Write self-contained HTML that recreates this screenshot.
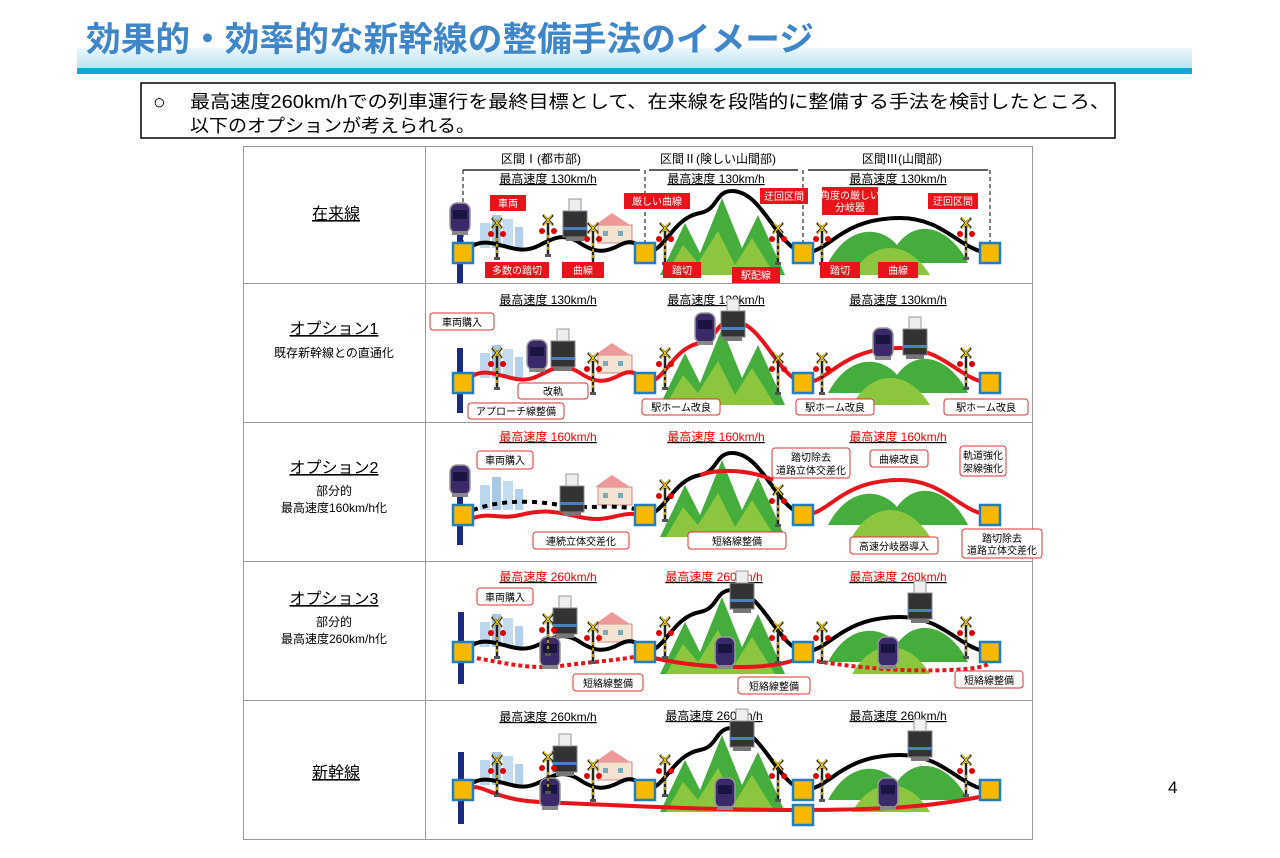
<!DOCTYPE html>
<html><head><meta charset="utf-8"><style>
body{margin:0;background:#fff;width:1280px;height:853px;overflow:hidden;font-family:"Liberation Sans","Noto Sans CJK JP",sans-serif}
svg text{font-family:"Liberation Sans","Noto Sans CJK JP",sans-serif}
</style></head><body>
<svg width="1280" height="853" viewBox="0 0 1280 853" xmlns="http://www.w3.org/2000/svg">
<defs>
<linearGradient id="band" x1="0" y1="0" x2="0" y2="1"><stop offset="0" stop-color="#eaf6fb"/><stop offset="1" stop-color="#bfe4f2"/></linearGradient>
<g id="stn"><rect x="-10" y="-10" width="20" height="20" fill="#f6b800" stroke="#1f7fc1" stroke-width="2.5"/></g>
<g id="sig"><line x1="0" y1="-22" x2="0" y2="10" stroke="#222" stroke-width="2.5"/><line x1="0" y1="-10" x2="0" y2="8" stroke="#e8c000" stroke-width="1.5" stroke-dasharray="3 3"/><path d="M-5,-30 L5,-20 M5,-30 L-5,-20" stroke="#222" stroke-width="2.5"/><path d="M-4,-30 L4,-20 M4,-30 L-4,-20" stroke="#f5d000" stroke-width="1.2"/><circle cx="-6" cy="-14" r="3" fill="#d00"/><circle cx="6" cy="-14" r="3" fill="#d00"/><rect x="-3" y="9" width="6" height="3" fill="#555"/></g>
<g id="trn"><rect x="-10" y="-15" width="20" height="30" rx="7" fill="#3a2a6a" stroke="#999" stroke-width="1.5"/><rect x="-7" y="-8" width="14" height="9" fill="#1a1440"/><rect x="-8" y="13" width="16" height="4" fill="#888"/></g>
<g id="loco"><rect x="-12" y="-14" width="24" height="26" fill="#333" stroke="#888"/><rect x="-6" y="-26" width="12" height="12" fill="#eee" stroke="#999"/><rect x="-12" y="2" width="24" height="3" fill="#4a7fc0"/><rect x="-9" y="12" width="18" height="4" fill="#777"/></g>
<g id="city"><rect x="480" y="-30" width="10" height="25" fill="#bcd6ec"/><rect x="492" y="-38" width="9" height="33" fill="#a9c8e6"/><rect x="503" y="-34" width="10" height="29" fill="#c3dcef"/><rect x="515" y="-26" width="8" height="21" fill="#b5d0ea"/></g>
<g id="house"><rect x="598" y="-28" width="34" height="18" fill="#f3e3d0" stroke="#c88"/><path d="M595,-28 L612,-40 L630,-28Z" fill="#e99"/><rect x="603" y="-22" width="5" height="5" fill="#7ab"/><rect x="618" y="-22" width="5" height="5" fill="#7ab"/></g>
<g id="mtn"><path d="M660,22 L685,-30 L700,0 L722,-55 L742,-5 L758,-38 L785,22Z" fill="#45ad3c"/><path d="M666,22 L683,-8 L698,10 L718,-22 L735,12 L752,-15 L775,22Z" fill="#8cc63f"/><path d="M828,10 C848,-28 880,-28 897,-8 C917,-36 950,-26 968,10Z" fill="#45ad3c"/><path d="M852,22 C872,-14 908,-14 930,22Z" fill="#8cc63f"/></g>
<path id="trk" d="M463,0 C475,-12 485,-12 500,-8 S525,0 540,-8 S565,-20 580,-10 S605,0 620,-8 S640,-5 645,0 C665,0 672,-35 700,-40 C718,-43 715,-62 732,-62 C762,-62 776,-8 803,0 C830,0 840,-35 900,-35 C945,-35 960,-2 990,0" fill="none"/>
</defs>

<!-- header -->
<rect x="77" y="48" width="1115" height="20" fill="url(#band)"/>
<rect x="77" y="68" width="1115" height="6" fill="#14a8d3"/>
<text x="86" y="51" font-size="34" font-weight="bold" fill="#3f86c8" textLength="728" lengthAdjust="spacingAndGlyphs">効果的・効率的な新幹線の整備手法のイメージ</text>
<rect x="141" y="83" width="974" height="55" fill="#fff" stroke="#000" stroke-width="1.5"/>
<text x="153" y="109" font-size="21">○</text>
<text x="190" y="108" font-size="18" textLength="920" lengthAdjust="spacingAndGlyphs">最高速度260km/hでの列車運行を最終目標として、在来線を段階的に整備する手法を検討したところ、</text>
<text x="190" y="132" font-size="18" textLength="285" lengthAdjust="spacingAndGlyphs">以下のオプションが考えられる。</text>
<text x="1168" y="793" font-size="17">4</text>

<!-- table -->
<rect x="243.5" y="146.5" width="789" height="693" fill="none" stroke="#999"/>
<line x1="425.5" y1="146" x2="425.5" y2="840" stroke="#999"/>
<g stroke="#999"><line x1="243" y1="283.5" x2="1033" y2="283.5"/><line x1="243" y1="422.5" x2="1033" y2="422.5"/><line x1="243" y1="561.5" x2="1033" y2="561.5"/><line x1="243" y1="700.5" x2="1033" y2="700.5"/></g>
<g font-size="16" text-anchor="middle" text-decoration="underline">
<text x="336" y="219">在来線</text><text x="334" y="334">オプション1</text><text x="334" y="473">オプション2</text><text x="334" y="604">オプション3</text><text x="336" y="778">新幹線</text></g>
<g font-size="12" text-anchor="middle"><text x="334" y="357">既存新幹線との直通化</text><text x="334" y="495">部分的</text><text x="334" y="512">最高速度160km/h化</text><text x="334" y="626">部分的</text><text x="334" y="643">最高速度260km/h化</text></g>

<!-- row1 header -->
<g font-size="12" text-anchor="middle"><text x="541" y="163">区間Ⅰ(都市部)</text><text x="718" y="163">区間Ⅱ(険しい山間部)</text><text x="902" y="163">区間Ⅲ(山間部)</text></g>
<g stroke="#000" stroke-width="1.2"><line x1="463" y1="170" x2="640" y2="170"/><line x1="649" y1="170" x2="798" y2="170"/><line x1="808" y1="170" x2="988" y2="170"/></g>
<g stroke="#000" stroke-dasharray="4 3"><line x1="463" y1="170" x2="463" y2="245"/><line x1="645" y1="170" x2="645" y2="245"/><line x1="803" y1="170" x2="803" y2="245"/><line x1="990" y1="170" x2="990" y2="245"/></g>
<g font-size="12" text-anchor="middle" text-decoration="underline">
<text x="548" y="183">最高速度 130km/h</text><text x="716" y="183">最高速度 130km/h</text><text x="898" y="183">最高速度 130km/h</text>
<text x="548" y="304">最高速度 130km/h</text><text x="716" y="304">最高速度 130km/h</text><text x="898" y="304">最高速度 130km/h</text>
<g fill="#e00"><text x="548" y="441">最高速度 160km/h</text><text x="716" y="441">最高速度 160km/h</text><text x="898" y="441">最高速度 160km/h</text>
<text x="548" y="581">最高速度 260km/h</text><text x="714" y="581">最高速度 260km/h</text><text x="898" y="581">最高速度 260km/h</text></g>
<text x="548" y="721">最高速度 260km/h</text><text x="714" y="720">最高速度 260km/h</text><text x="898" y="720">最高速度 260km/h</text></g>

<!-- Row 1 -->
<g transform="translate(0,253)">
<rect x="457" y="-45" width="6" height="75" fill="#1a2a80"/>
<use href="#city"/><use href="#house"/><use href="#mtn"/>
<use href="#trk" stroke="#000" stroke-width="4"/>
<use href="#trn" x="460" y="-35"/><use href="#loco" x="575" y="-28"/>
<use href="#sig" x="497" y="-5"/><use href="#sig" x="548" y="-8"/><use href="#sig" x="593" y="0"/>
<use href="#sig" x="665" y="0"/><use href="#sig" x="778" y="0"/><use href="#sig" x="822" y="0"/><use href="#sig" x="966" y="-5"/>
<use href="#stn" x="463"/><use href="#stn" x="645"/><use href="#stn" x="803"/><use href="#stn" x="990"/>
</g>
<g fill="#e8141c"><rect x="490" y="195" width="36" height="16"/><rect x="485" y="262" width="64" height="16"/><rect x="562" y="262" width="42" height="16"/><rect x="624" y="193" width="66" height="16"/><rect x="760" y="188" width="48" height="16"/><rect x="663" y="262" width="38" height="16"/><rect x="732" y="267" width="48" height="16"/><rect x="822" y="187" width="56" height="28"/><rect x="928" y="193" width="50" height="16"/><rect x="820" y="262" width="40" height="16"/><rect x="878" y="262" width="40" height="16"/></g>
<g font-size="10" fill="#fff" text-anchor="middle"><text x="508" y="207">車両</text><text x="517" y="274">多数の踏切</text><text x="583" y="274">曲線</text><text x="657" y="205">厳しい曲線</text><text x="784" y="200">迂回区間</text><text x="682" y="274">踏切</text><text x="756" y="279">駅配線</text><text x="850" y="199">角度の厳しい</text><text x="850" y="211">分岐器</text><text x="953" y="205">迂回区間</text><text x="840" y="274">踏切</text><text x="898" y="274">曲線</text></g>

<!-- Row 2 -->
<g transform="translate(0,383)">
<rect x="457" y="-35" width="6" height="65" fill="#1a2a80"/>
<use href="#city"/><use href="#house"/><use href="#mtn"/>
<use href="#trk" stroke="#e8141c" stroke-width="4"/>
<use href="#trn" x="537" y="-28"/><use href="#loco" x="563" y="-28"/>
<use href="#trn" x="705" y="-55"/><use href="#loco" x="733" y="-58"/><use href="#trn" x="883" y="-40"/><use href="#loco" x="915" y="-40"/>
<use href="#sig" x="497" y="-5"/><use href="#sig" x="593" y="0"/><use href="#sig" x="665" y="-5"/><use href="#sig" x="778" y="0"/><use href="#sig" x="822" y="0"/><use href="#sig" x="966" y="-5"/>
<use href="#stn" x="463"/><use href="#stn" x="645"/><use href="#stn" x="803"/><use href="#stn" x="990"/>
</g>
<g fill="#fff" stroke="#d33" stroke-width="1"><rect x="430" y="313" width="64" height="17" rx="3"/><rect x="518" y="383" width="70" height="16" rx="3"/><rect x="468" y="403" width="96" height="16" rx="3"/><rect x="642" y="399" width="78" height="16" rx="3"/><rect x="796" y="399" width="78" height="16" rx="3"/><rect x="944" y="399" width="84" height="16" rx="3"/></g>
<g font-size="10" text-anchor="middle"><text x="462" y="326">車両購入</text><text x="553" y="395">改軌</text><text x="516" y="415">アプローチ線整備</text><text x="681" y="411">駅ホーム改良</text><text x="835" y="411">駅ホーム改良</text><text x="986" y="411">駅ホーム改良</text></g>

<!-- Row 3 -->
<g transform="translate(0,515)">
<rect x="457" y="-50" width="6" height="80" fill="#1a2a80"/>
<use href="#city"/><use href="#house"/><use href="#mtn"/>
<path d="M473,-5 C500,-15 530,-15 560,-10 S610,-12 640,-5" fill="none" stroke="#000" stroke-width="4" stroke-dasharray="5 5"/>
<path d="M473,3 C490,-3 500,5 520,0 S550,-5 580,2 S620,-5 640,0" fill="none" stroke="#e8141c" stroke-width="4"/>
<path d="M645,0 C665,0 672,-35 700,-40 C718,-43 715,-62 732,-62 C762,-62 776,-8 803,0" fill="none" stroke="#000" stroke-width="4"/>
<path d="M700,-40 C720,-47 750,-45 773,-35" fill="none" stroke="#e8141c" stroke-width="4"/>
<path d="M803,0 C830,0 840,-35 900,-35 C945,-35 960,-2 990,0" fill="none" stroke="#e8141c" stroke-width="4"/>
<use href="#trn" x="460" y="-35"/><use href="#loco" x="572" y="-15"/>
<use href="#sig" x="665" y="-5"/><use href="#sig" x="778" y="0"/>
<use href="#stn" x="463"/><use href="#stn" x="645"/><use href="#stn" x="803"/><use href="#stn" x="990"/>
</g>
<g fill="#fff" stroke="#d33" stroke-width="1"><rect x="477" y="451" width="56" height="18" rx="3"/><rect x="533" y="532" width="96" height="17" rx="3"/><rect x="688" y="532" width="98" height="17" rx="3"/><rect x="772" y="448" width="78" height="30" rx="3"/><rect x="870" y="450" width="58" height="17" rx="3"/><rect x="960" y="446" width="46" height="30" rx="3"/><rect x="850" y="537" width="88" height="17" rx="3"/><rect x="962" y="529" width="80" height="29" rx="3"/></g>
<g font-size="10" text-anchor="middle"><text x="505" y="464">車両購入</text><text x="581" y="545">連続立体交差化</text><text x="737" y="545">短絡線整備</text><text x="811" y="461">踏切除去</text><text x="811" y="474">道路立体交差化</text><text x="899" y="463">曲線改良</text><text x="983" y="459">軌道強化</text><text x="983" y="472">架線強化</text><text x="894" y="550">高速分岐器導入</text><text x="1002" y="542">踏切除去</text><text x="1002" y="554">道路立体交差化</text></g>

<!-- Row 4 -->
<g transform="translate(0,652)">
<rect x="458" y="-40" width="6" height="72" fill="#1a2a80"/>
<use href="#city"/><use href="#house"/><use href="#mtn"/>
<use href="#trk" stroke="#000" stroke-width="4"/>
<path d="M470,5 C500,10 530,18 560,14 S620,8 640,4" fill="none" stroke="#e8141c" stroke-width="4" stroke-dasharray="4 3"/>
<path d="M650,5 C690,15 760,20 795,8" fill="none" stroke="#e8141c" stroke-width="4"/>
<path d="M810,8 C850,15 900,20 950,18 S985,8 995,8" fill="none" stroke="#e8141c" stroke-width="4" stroke-dasharray="4 3"/>
<use href="#trn" x="550" y="0"/><use href="#loco" x="565" y="-30"/><use href="#trn" x="725" y="0"/><use href="#loco" x="742" y="-55"/><use href="#trn" x="888" y="0"/><use href="#loco" x="920" y="-45"/>
<use href="#sig" x="497" y="-5"/><use href="#sig" x="548" y="-8"/><use href="#sig" x="593" y="0"/><use href="#sig" x="665" y="-5"/><use href="#sig" x="778" y="0"/><use href="#sig" x="822" y="0"/><use href="#sig" x="966" y="-5"/>
<use href="#stn" x="463"/><use href="#stn" x="645"/><use href="#stn" x="803"/><use href="#stn" x="990"/>
</g>
<g fill="#fff" stroke="#d33" stroke-width="1"><rect x="477" y="588" width="56" height="17" rx="3"/><rect x="573" y="674" width="70" height="17" rx="3"/><rect x="738" y="677" width="72" height="17" rx="3"/><rect x="955" y="671" width="68" height="17" rx="3"/></g>
<g font-size="10" text-anchor="middle"><text x="505" y="601">車両購入</text><text x="608" y="687">短絡線整備</text><text x="774" y="690">短絡線整備</text><text x="989" y="684">短絡線整備</text></g>

<!-- Row 5 -->
<g transform="translate(0,790)">
<rect x="458" y="-38" width="6" height="72" fill="#1a2a80"/>
<use href="#city"/><use href="#house"/><use href="#mtn"/>
<use href="#trk" stroke="#000" stroke-width="4"/>
<path d="M468,0 C480,-10 490,10 540,12 S700,20 800,20 S940,15 990,5" fill="none" stroke="#e8141c" stroke-width="4"/>
<use href="#trn" x="550" y="3"/><use href="#loco" x="565" y="-30"/><use href="#trn" x="725" y="3"/><use href="#loco" x="742" y="-55"/><use href="#trn" x="888" y="3"/><use href="#loco" x="920" y="-45"/>
<use href="#sig" x="497" y="-5"/><use href="#sig" x="548" y="-8"/><use href="#sig" x="593" y="0"/><use href="#sig" x="665" y="-5"/><use href="#sig" x="778" y="0"/><use href="#sig" x="822" y="0"/><use href="#sig" x="966" y="-5"/>
<use href="#stn" x="463"/><use href="#stn" x="645"/><use href="#stn" x="803"/><use href="#stn" x="990"/><use href="#stn" x="803" y="25"/>
</g>
</svg>
</body></html>
